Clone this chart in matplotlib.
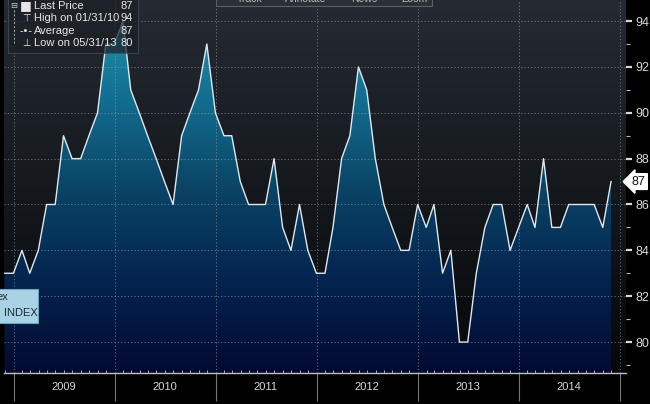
import numpy as np
import pandas as pd
import matplotlib
matplotlib.use("Agg")
import matplotlib.pyplot as plt
import matplotlib.dates as mdates
from matplotlib.colors import LinearSegmentedColormap
from matplotlib.patches import Rectangle

plt.rcParams["font.family"] = ["Liberation Sans", "DejaVu Sans"]

# monthly index values, month-end Nov 2008 .. Nov 2014
values = [83, 83,
          84, 83, 84, 86, 86, 89, 88, 88, 89, 90, 93, 93,
          94, 91, 90, 89, 88, 87, 86, 89, 90, 91, 93, 90,
          89, 89, 87, 86, 86, 86, 88, 85, 84, 86, 84, 83,
          83, 85, 88, 89, 92, 91, 88, 86, 85, 84, 84, 86,
          85, 86, 83, 84, 80, 80, 83, 85, 86, 86, 84, 85,
          86, 85, 88, 85, 85, 86, 86, 86, 86, 85, 87]
dates = pd.date_range("2008-11-30", periods=len(values), freq="ME")
years = [2009, 2010, 2011, 2012, 2013, 2014]
yticks = [80, 82, 84, 86, 88, 90, 92, 94]

legend_rows = [("Last Price", "87"), ("High on 01/31/10", "94"),
               ("Average", "87"), ("Low on 05/31/13", "80")]

W, H = 650, 404
fig = plt.figure(figsize=(W / 100, H / 100), dpi=100, facecolor="black")
ax = fig.add_axes([4 / W, 31 / H, 622 / W, 373 / H])
ax.set_facecolor("none")

x0 = mdates.date2num(pd.Timestamp("2008-11-27"))
x1 = mdates.date2num(pd.Timestamp("2015-01-23"))
y0, y1 = 78.65, 94.92
ax.set_xlim(x0, x1)
ax.set_ylim(y0, y1)

# background gradient
bg = LinearSegmentedColormap.from_list("bg", ["#252b33", "#15191e", "#060709"])
grad = np.linspace(0, 1, 256).reshape(-1, 1)
ax.imshow(grad, cmap=bg, extent=[x0, x1, y0, y1], aspect="auto",
          origin="upper", zorder=0)

# area fill gradient clipped to the series
xd = mdates.date2num(dates)
poly = ax.fill_between(xd, values, y0, color="none", lw=0)
fc = LinearSegmentedColormap.from_list(
    "fill", ["#2397b2", "#137093", "#0a4566", "#04244f", "#020a32"])
im = ax.imshow(grad, cmap=fc, extent=[x0, x1, y0, y1], aspect="auto",
               origin="upper", zorder=1)
im.set_clip_path(poly.get_paths()[0], ax.transData)
ax.plot(xd, values, color="#dfe8ee", lw=1.0, zorder=3)

# grid
for y in yticks:
    ax.axhline(y, color="#9aa0a6", lw=0.6, ls=(0, (1.5, 2.5)), alpha=0.7, zorder=2)
for yr in years + [2015]:
    ax.axvline(mdates.date2num(pd.Timestamp(f"{yr}-01-01")), color="#9aa0a6",
               lw=0.6, ls=(0, (1.5, 2.5)), alpha=0.7, zorder=2)

# axes / ticks
for s in ["top", "left", "right"]:
    ax.spines[s].set_visible(False)
ax.spines["bottom"].set_color("#bfbfbf")
ax.spines["bottom"].set_linewidth(1.0)

ax.yaxis.tick_right()
ax.set_yticks(yticks)
ax.set_yticks(np.arange(79, 95, 2), minor=True)
ax.tick_params(axis="y", which="major", colors="#d8d8d8", length=4, width=1.6,
               pad=3, labelsize=9)
ax.tick_params(axis="y", which="minor", colors="#bbbbbb", length=3, width=0.8)

ax.xaxis.set_major_locator(mdates.YearLocator())
ax.xaxis.set_minor_locator(mdates.MonthLocator())
ax.xaxis.set_major_formatter(plt.NullFormatter())
ax.tick_params(axis="x", which="major", colors="#777777", length=20, width=0.8)
ax.tick_params(axis="x", which="minor", colors="#aaaaaa", length=2.5,
               width=0.7, direction="in")
for yr in years:
    ax.text(mdates.date2num(pd.Timestamp(f"{yr}-07-01")), -0.038, str(yr),
            transform=ax.get_xaxis_transform(), ha="center", va="center",
            color="#d8d8d8", fontsize=8)

# last price tag
ax.annotate(str(values[-1]), xy=(1.0, values[-1]),
            xycoords=ax.get_yaxis_transform(), xytext=(4, 0),
            textcoords="offset points", ha="left", va="center",
            fontsize=9, color="#111111",
            bbox=dict(boxstyle="larrow,pad=0.15", fc="white", ec="white"),
            annotation_clip=False)


def fx(px):
    return px / W


def fy(py):
    return 1 - py / H


# legend box
fig.patches.append(Rectangle((fx(8), fy(53)), 130 / W, 60 / H,
                             transform=fig.transFigure, fc="#1b2026",
                             ec="#4a4f55", lw=0.8, alpha=0.72, zorder=5))
rows_y = [6, 18, 31, 43]
icons = ["\u25a0", "\u22a4", "-\u2022-", "\u22a5"]
for (lab, val), py, ic in zip(legend_rows, rows_y, icons):
    fig.text(fx(34), fy(py), lab, color="#e6e6e6", fontsize=8,
             va="center", ha="left", zorder=6)
    fig.text(fx(133), fy(py), val, color="#e6e6e6", fontsize=8,
             va="center", ha="right", zorder=6)
    fig.text(fx(26), fy(py), ic, color="#e6e6e6",
             fontsize=7 if ic != "\u25a0" else 9,
             va="center", ha="center", zorder=6,
             family="DejaVu Sans")
fig.text(fx(14), fy(5), "\u229f", color="#cccccc", fontsize=6, va="center",
         ha="center", zorder=6, family="DejaVu Sans")
fig.add_artist(plt.Line2D([fx(14), fx(14)], [fy(10), fy(45)],
                          transform=fig.transFigure, color="#aaaaaa",
                          lw=0.7, ls=(0, (2, 2)), zorder=6))

# toolbar strip (cut off at top, as in the source screenshot)
fig.patches.append(Rectangle((fx(216), fy(6)), 216 / W, 10 / H,
                             transform=fig.transFigure, fc="#2b3037",
                             ec="#5a5f66", lw=0.8, zorder=5))
for lab, px in [("Track", 250), ("Annotate", 306), ("News", 364), ("Zoom", 415)]:
    fig.text(fx(px), fy(-1), lab, color="#bbbbbb", fontsize=7.5, ha="center",
             va="center", zorder=6)

# tooltip box on left
fig.patches.append(Rectangle((fx(-2), fy(323)), 40 / W, 34 / H,
                             transform=fig.transFigure, fc="#a9d3e4",
                             ec="#6aa6bf", lw=0.8, zorder=5))
fig.text(fx(-3), fy(297), "ex", color="#1d2b36", fontsize=8, ha="left",
         va="center", zorder=6)
fig.text(fx(4), fy(313), "INDEX", color="#1d2b36", fontsize=8, ha="left",
         va="center", zorder=6)

fig.savefig("out.png", dpi=100, facecolor="black")
